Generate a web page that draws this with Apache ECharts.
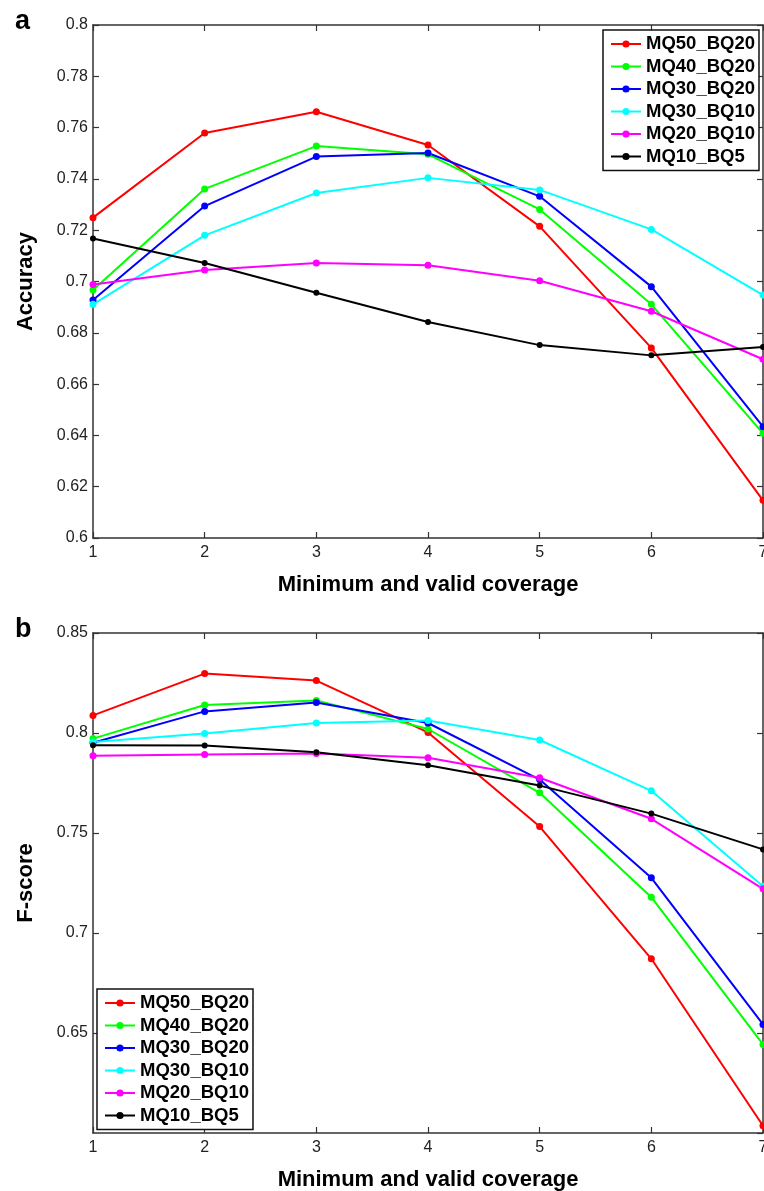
<!DOCTYPE html>
<html>
<head>
<meta charset="utf-8">
<script src="https://cdn.jsdelivr.net/npm/echarts@6/dist/echarts.min.js"></script>
<style>
  html, body { margin: 0; padding: 0; background: #fff; }
  #chart { width: 764px; height: 1191px; }
</style>
</head>
<body>
<div id="chart"></div>
<script>
// x values (minimum and valid coverage)
const coverage = [1, 2, 3, 4, 5, 6, 7];
const seriesNames = ['MQ50_BQ20', 'MQ40_BQ20', 'MQ30_BQ20', 'MQ30_BQ10', 'MQ20_BQ10', 'MQ10_BQ5'];
const lineColors = ['#ff0000', '#00ff00', '#0000ff', '#00ffff', '#ff00ff', '#000000'];

// panel a: accuracy
const accMQ50_BQ20 = [0.7249, 0.7579, 0.7662, 0.7532, 0.7215, 0.6741, 0.6147];
const accMQ40_BQ20 = [0.6967, 0.7361, 0.7528, 0.7496, 0.7281, 0.6911, 0.6408];
const accMQ30_BQ20 = [0.6928, 0.7294, 0.7487, 0.7501, 0.7332, 0.6980, 0.6434];
const accMQ30_BQ10 = [0.6911, 0.7180, 0.7345, 0.7404, 0.7357, 0.7203, 0.6947];
const accMQ20_BQ10 = [0.6988, 0.7045, 0.7072, 0.7063, 0.7003, 0.6884, 0.6697];
const accMQ10_BQ5  = [0.7168, 0.7072, 0.6956, 0.6842, 0.6752, 0.6712, 0.6745];

// panel b: F-score
const fMQ50_BQ20 = [0.8088, 0.8297, 0.8262, 0.8003, 0.7532, 0.6871, 0.6036];
const fMQ40_BQ20 = [0.7972, 0.8140, 0.8163, 0.8020, 0.7701, 0.7179, 0.6443];
const fMQ30_BQ20 = [0.7951, 0.8108, 0.8152, 0.8050, 0.7767, 0.7276, 0.6543];
const fMQ30_BQ10 = [0.7955, 0.7997, 0.8050, 0.8062, 0.7965, 0.7711, 0.7234];
const fMQ20_BQ10 = [0.7886, 0.7892, 0.7897, 0.7876, 0.7776, 0.7571, 0.7221];
const fMQ10_BQ5  = [0.7939, 0.7937, 0.7904, 0.7839, 0.7737, 0.7597, 0.7418];

const accuracy = [accMQ50_BQ20, accMQ40_BQ20, accMQ30_BQ20, accMQ30_BQ10, accMQ20_BQ10, accMQ10_BQ5];
const fscore = [fMQ50_BQ20, fMQ40_BQ20, fMQ30_BQ20, fMQ30_BQ10, fMQ20_BQ10, fMQ10_BQ5];

const FONT = 'Liberation Sans, Arial, sans-serif';
const axisColor = '#333';

function xAxisPair(gridIndex) {
    return [
        {
            gridIndex, type: 'value', min: 1, max: 7, interval: 1,
            position: 'bottom',
            name: 'Minimum and valid coverage', nameLocation: 'middle', nameGap: 36,
            nameTextStyle: { fontFamily: FONT, fontSize: 22, fontWeight: 'bold', color: '#000' },
            axisLine: { show: true, lineStyle: { color: axisColor, width: 1.5 } },
            axisTick: { inside: true, length: 6, lineStyle: { color: axisColor, width: 1.2 } },
            axisLabel: { fontFamily: FONT, fontSize: 16, color: '#222', margin: 7 },
            splitLine: { show: false }
        },
        {
            gridIndex, type: 'value', min: 1, max: 7, interval: 1,
            position: 'top',
            axisLine: { show: true, lineStyle: { color: axisColor, width: 1.5 } },
            axisTick: { inside: true, length: 6, lineStyle: { color: axisColor, width: 1.2 } },
            axisLabel: { show: false },
            splitLine: { show: false }
        }
    ];
}

function yAxisPair(gridIndex, name, min, max, interval, hideMin) {
    return [
        {
            gridIndex, type: 'value', min, max, interval,
            position: 'left',
            name, nameLocation: 'middle', nameGap: 56, nameRotate: 90,
            nameTextStyle: { fontFamily: FONT, fontSize: 22, fontWeight: 'bold', color: '#000' },
            axisLine: { show: true, lineStyle: { color: axisColor, width: 1.5 } },
            axisTick: { inside: true, length: 6, lineStyle: { color: axisColor, width: 1.2 } },
            axisLabel: { fontFamily: FONT, fontSize: 16, color: '#222', margin: 5, showMinLabel: !hideMin },
            splitLine: { show: false }
        },
        {
            gridIndex, type: 'value', min, max, interval,
            position: 'right',
            axisLine: { show: true, lineStyle: { color: axisColor, width: 1.5 } },
            axisTick: { inside: true, length: 6, lineStyle: { color: axisColor, width: 1.2 } },
            axisLabel: { show: false },
            splitLine: { show: false }
        }
    ];
}

function makeSeries(values, axisIndex) {
    return seriesNames.map((name, s) => ({
        name,
        type: 'line',
        xAxisIndex: axisIndex,
        yAxisIndex: axisIndex,
        data: coverage.map((x, i) => [x, values[s][i]]),
        symbol: 'circle',
        symbolSize: s === 5 ? 6 : 7,
        color: lineColors[s],
        lineStyle: { width: 2, color: lineColors[s] },
        itemStyle: { color: lineColors[s] },
        emphasis: { disabled: true },
        animation: false
    }));
}

function makeLegend(left, top) {
    return {
        left, top,
        orient: 'vertical',
        data: seriesNames,
        backgroundColor: '#fff',
        borderColor: '#111',
        borderWidth: 1.5,
        borderRadius: 0,
        padding: [3, 4, 3, 7],
        itemWidth: 30,
        itemHeight: 9,
        itemGap: 0.5,
        textStyle: { fontFamily: FONT, fontSize: 18.5, fontWeight: 'bold', color: '#000', lineHeight: 22, padding: [0, 0, 0, 0] },
        selectedMode: false
    };
}

const chart = echarts.init(document.getElementById('chart'), null, { renderer: 'canvas' });

chart.setOption({
    backgroundColor: '#fff',
    animation: false,
    grid: [
        { left: 93, top: 25, right: 1, height: 513, outerBoundsMode: 'none' },
        { left: 93, top: 633, right: 1, height: 500, outerBoundsMode: 'none' }
    ],
    xAxis: [...xAxisPair(0), ...xAxisPair(1)],
    yAxis: [
        ...yAxisPair(0, 'Accuracy', 0.6, 0.8, 0.02, false),
        ...yAxisPair(1, 'F-score', 0.6, 0.85, 0.05, true)
    ],
    legend: [makeLegend(603, 30), makeLegend(97, 989)],
    graphic: [
        { type: 'text', left: 15, top: 8, style: { text: 'a', fontFamily: FONT, fontSize: 27, fontWeight: 'bold', fill: '#000' } },
        { type: 'text', left: 15, top: 616, style: { text: 'b', fontFamily: FONT, fontSize: 27, fontWeight: 'bold', fill: '#000' } }
    ],
    series: [...makeSeries(accuracy, 0), ...makeSeries(fscore, 2)]
});
</script>
</body>
</html>
